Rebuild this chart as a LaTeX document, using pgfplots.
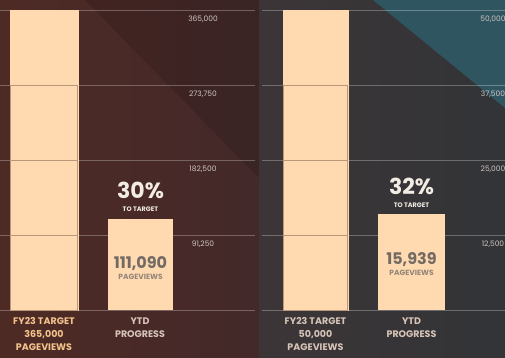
\documentclass[border=0pt]{standalone}
\usepackage{pgfplots}
\pgfplotsset{compat=1.18}
\usepackage{fontspec}
\setmainfont{Poppins}
\definecolor{bgLa}{HTML}{4E2A24}
\definecolor{bgLb}{HTML}{43292A}
\definecolor{bgRa}{HTML}{3C3537}
\definecolor{bgRb}{HTML}{323437}
\definecolor{tealbg}{HTML}{2F5560}
\definecolor{peach}{HTML}{FFDAB0}
\definecolor{divider}{HTML}{B89878}
\definecolor{inbar}{HTML}{736A65}
\definecolor{inbarlt}{HTML}{958579}
\definecolor{ticktext}{HTML}{CFC6C2}
\definecolor{lblpeach}{HTML}{F4C38C}
\definecolor{lblgray}{HTML}{D6C4B8}
\definecolor{pct}{HTML}{F3ECE4}
\begin{document}
\begin{tikzpicture}[x=1pt,y=1pt]
\useasboundingbox (0,0) rectangle (505,358);
\fill[left color=bgLa, right color=bgLb] (0,0) rectangle (259,358);
\fill[black, opacity=0.12] (85,358) -- (259,358) -- (259,180) -- cycle;
\fill[left color=bgRa, right color=bgRb] (259,0) rectangle (505,358);
\fill[tealbg] (373,358) -- (505,358) -- (505,250) -- cycle;
\pgfplotsset{panel/.style={
  scale only axis, clip=false,
  axis line style={draw=none}, tick style={draw=none}, major tick length=0pt,
  ymin=0, scaled y ticks=false,
  ymajorgrids, grid style={white, opacity=0.28, line width=0.7pt},
  yticklabel pos=right,
  yticklabel style={anchor=north, yshift=-2pt, font=\fontsize{7.5}{8}\selectfont, text=ticktext},
  xticklabel style={align=center, anchor=north, yshift=-4pt, font=\fontsize{9.5}{13}\selectfont\bfseries},
  seg/.style={ybar, bar shift=0pt, fill=peach, draw=divider, line width=0.6pt},
}}
% ---------- left panel ----------
\begin{axis}[panel, at={(0pt,48pt)}, anchor=south west,
  width=255pt, height=300pt, xmin=0, xmax=255, ymax=365000,
  ytick={0,91250,182500,273750,365000},
  yticklabels={{},{91,250},{182,500},{273,750},{365,000}},
  yticklabel style={xshift=-52pt},
  xtick={44,140},
  xticklabels={{\textcolor{lblpeach}{FY23 TARGET}\\\textcolor{lblpeach}{365,000}\\\textcolor{lblpeach}{PAGEVIEWS}},{\textcolor{lblgray}{YTD}\\\textcolor{lblgray}{PROGRESS}}}]
\addplot[seg, bar width=68, draw=peach] coordinates {(44,365000)};
\addplot[seg, bar width=67] coordinates {(44,273750)};
\addplot[seg, bar width=67] coordinates {(44,182500)};
\addplot[seg, bar width=67] coordinates {(44,91250)};
\addplot[seg, bar width=65, draw=none] coordinates {(140.5,111090)};
\node[font=\fontsize{22}{22}\selectfont\bfseries, text=pct, yshift=28pt] at (axis cs:140.5,111090) {30\%};
\node[font=\fontsize{6.5}{6.5}\selectfont\bfseries, text=pct, yshift=9.5pt] at (axis cs:140.5,111090) {TO TARGET};
\node[font=\fontsize{16}{16}\selectfont\bfseries, text=inbar, yshift=-45pt] at (axis cs:140.5,111090) {111,090};
\node[font=\fontsize{7.5}{7.5}\selectfont\bfseries, text=inbarlt, yshift=-58pt] at (axis cs:140.5,111090) {PAGEVIEWS};
\end{axis}
% ---------- right panel ----------
\begin{axis}[panel, at={(262pt,48pt)}, anchor=south west,
  width=243pt, height=300pt, xmin=262, xmax=505, ymax=50000,
  ytick={0,12500,25000,37500,50000},
  yticklabels={{},{12,500},{25,000},{37,500},{50,000}},
  yticklabel style={xshift=-12pt},
  xtick={315.5,411.5},
  xticklabels={{\textcolor{lblgray}{FY23 TARGET}\\\textcolor{lblgray}{50,000}\\\textcolor{lblgray}{PAGEVIEWS}},{\textcolor{lblgray}{YTD}\\\textcolor{lblgray}{PROGRESS}}}]
\addplot[seg, bar width=65, draw=peach] coordinates {(315.5,50000)};
\addplot[seg, bar width=64] coordinates {(315.5,37500)};
\addplot[seg, bar width=64] coordinates {(315.5,25000)};
\addplot[seg, bar width=64] coordinates {(315.5,12500)};
\addplot[seg, bar width=67, draw=none] coordinates {(411.5,15939)};
\node[font=\fontsize{22}{22}\selectfont\bfseries, text=pct, yshift=28pt] at (axis cs:411.5,15939) {32\%};
\node[font=\fontsize{6.5}{6.5}\selectfont\bfseries, text=pct, yshift=9.5pt] at (axis cs:411.5,15939) {TO TARGET};
\node[font=\fontsize{16}{16}\selectfont\bfseries, text=inbar, yshift=-45pt] at (axis cs:411.5,15939) {15,939};
\node[font=\fontsize{7.5}{7.5}\selectfont\bfseries, text=inbarlt, yshift=-58pt] at (axis cs:411.5,15939) {PAGEVIEWS};
\end{axis}
\end{tikzpicture}
\end{document}
